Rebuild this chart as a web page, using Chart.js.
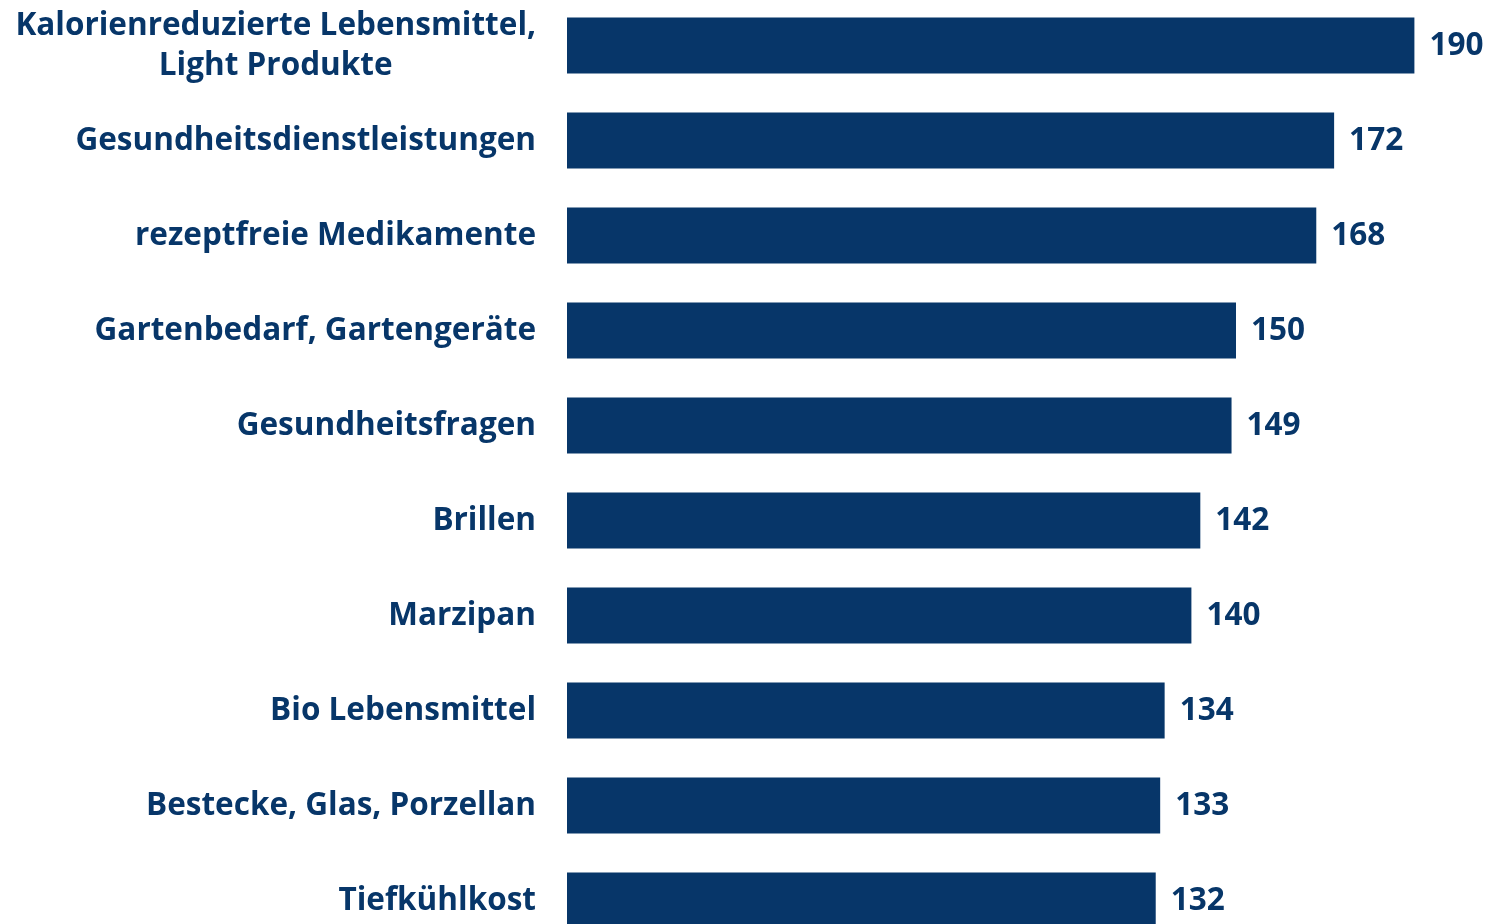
<!DOCTYPE html>
<html>
<head>
<meta charset="utf-8">
<script src="https://cdn.jsdelivr.net/npm/chart.js@4.4.1/dist/chart.umd.min.js"></script>
<style>
  html, body { margin: 0; padding: 0; background: #fff; overflow: hidden; }
  #wrap { position: relative; width: 1491px; height: 950px; margin-top: -2px; }
</style>
</head>
<body>
<div id="wrap"><canvas id="barChart"></canvas></div>
<script>
const categories = [
  ['Kalorienreduzierte Lebensmittel,', 'Light Produkte'],
  'Gesundheitsdienstleistungen',
  'rezeptfreie Medikamente',
  'Gartenbedarf, Gartengeräte',
  'Gesundheitsfragen',
  'Brillen',
  'Marzipan',
  'Bio Lebensmittel',
  'Bestecke, Glas, Porzellan',
  'Tiefkühlkost'
];
const values = [190, 172, 168, 150, 149, 142, 140, 134, 133, 132];

const navy = '#073669';
const fontFamily = '"Open Sans", "DejaVu Sans", sans-serif';
const labelFont = `bold 31.5px ${fontFamily}`;

// Kategorie-Beschriftungen selbst zeichnen (mehrzeilig zentriert, rechtsbündig)
const categoryLabels = {
  id: 'categoryLabels',
  afterDraw(chart) {
    const { ctx, chartArea, scales } = chart;
    ctx.save();
    ctx.fillStyle = navy;
    ctx.font = labelFont;
    ctx.textBaseline = 'middle';
    const right = chartArea.left - 31;
    categories.forEach((label, i) => {
      const y = scales.y.getPixelForTick(i) + 1;
      if (Array.isArray(label)) {
        const maxW = Math.max(...label.map(l => ctx.measureText(l).width));
        const cx = right - maxW / 2;
        ctx.textAlign = 'center';
        const lh = 40;
        label.forEach((l, k) => {
          ctx.fillText(l, cx, y + (k - (label.length - 1) / 2) * lh);
        });
      } else {
        ctx.textAlign = 'right';
        ctx.fillText(label, right, y);
      }
    });
    ctx.restore();
  }
};

// Werte rechts neben den Balken
const valueLabels = {
  id: 'valueLabels',
  afterDatasetsDraw(chart) {
    const { ctx } = chart;
    const meta = chart.getDatasetMeta(0);
    ctx.save();
    ctx.fillStyle = navy;
    ctx.font = labelFont;
    ctx.textAlign = 'left';
    ctx.textBaseline = 'middle';
    meta.data.forEach((bar, i) => {
      ctx.fillText(values[i], bar.x + 15, bar.y + 1);
    });
    ctx.restore();
  }
};

new Chart(document.getElementById('barChart'), {
  type: 'bar',
  data: {
    labels: categories,
    datasets: [{
      data: values,
      backgroundColor: navy,
      borderWidth: 0,
      categoryPercentage: 1,
      barPercentage: 0.59
    }]
  },
  options: {
    indexAxis: 'y',
    responsive: true,
    maintainAspectRatio: false,
    animation: false,
    layout: { padding: { left: 0, right: 32, top: 0, bottom: 0 } },
    plugins: {
      legend: { display: false },
      tooltip: { enabled: false }
    },
    scales: {
      x: {
        display: false,
        min: 0,
        max: 200
      },
      y: {
        grid: { display: false, drawTicks: false },
        border: { display: false },
        ticks: { display: false },
        afterFit(scale) { scale.width = 567; }
      }
    }
  },
  plugins: [categoryLabels, valueLabels]
});
</script>
</body>
</html>
